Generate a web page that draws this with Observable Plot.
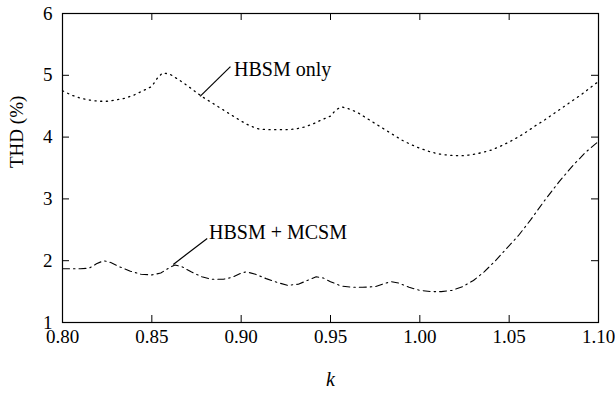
<!DOCTYPE html>
<html>
<head>
<meta charset="utf-8">
<script src="https://cdn.jsdelivr.net/npm/d3@7"></script>
<script src="https://cdn.jsdelivr.net/npm/@observablehq/plot@0.6"></script>
<style>
  body { margin: 0; background: #fff; }
</style>
</head>
<body>
<div id="chart"></div>
<script>
// HBSM only (dotted)
const kHbsm = [0.800,0.805,0.810,0.815,0.820,0.825,0.830,0.835,0.840,0.845,0.850,0.853,0.856,0.860,0.865,0.870,0.875,0.880,0.885,0.890,0.895,0.900,0.905,0.910,0.915,0.920,0.925,0.930,0.935,0.940,0.945,0.950,0.953,0.956,0.960,0.965,0.970,0.975,0.980,0.985,0.990,0.995,1.000,1.005,1.010,1.015,1.020,1.025,1.030,1.035,1.040,1.045,1.050,1.055,1.060,1.065,1.070,1.075,1.080,1.085,1.090,1.095,1.100];
const thdHbsm = [4.75,4.68,4.63,4.60,4.58,4.58,4.60,4.63,4.68,4.75,4.82,4.95,5.04,5.02,4.93,4.83,4.72,4.62,4.53,4.44,4.35,4.26,4.18,4.13,4.12,4.12,4.12,4.13,4.16,4.21,4.28,4.34,4.44,4.49,4.46,4.40,4.31,4.22,4.13,4.04,3.95,3.88,3.82,3.77,3.73,3.71,3.70,3.70,3.72,3.75,3.79,3.85,3.92,4.00,4.09,4.19,4.28,4.38,4.48,4.58,4.68,4.79,4.90];

// HBSM + MCSM (dash-dot)
const kMcsm = [0.800,0.805,0.810,0.815,0.819,0.823,0.827,0.832,0.838,0.844,0.850,0.855,0.860,0.863,0.867,0.872,0.878,0.883,0.890,0.895,0.900,0.903,0.908,0.914,0.920,0.926,0.932,0.937,0.942,0.946,0.950,0.956,0.962,0.968,0.975,0.980,0.984,0.988,0.994,1.000,1.006,1.012,1.018,1.024,1.030,1.036,1.042,1.048,1.055,1.062,1.070,1.078,1.086,1.093,1.100];
const thdMcsm = [1.87,1.87,1.87,1.88,1.95,2.00,1.97,1.90,1.83,1.78,1.77,1.80,1.89,1.93,1.90,1.82,1.74,1.70,1.70,1.73,1.80,1.82,1.78,1.71,1.65,1.60,1.62,1.68,1.74,1.72,1.66,1.59,1.57,1.57,1.58,1.63,1.66,1.64,1.57,1.52,1.50,1.50,1.52,1.58,1.68,1.82,1.99,2.18,2.40,2.66,2.98,3.28,3.55,3.76,3.93];

const xTicks = [0.80, 0.85, 0.90, 0.95, 1.00, 1.05, 1.10];
const yTicks = [1, 2, 3, 4, 5, 6];
const labelNames = ["HBSM only", "HBSM + MCSM"];
const labelK = [0.896, 0.882];
const labelThd = [5.09, 2.45];
const leaderK1 = [0.894, 0.881];
const leaderThd1 = [5.14, 2.36];
const leaderK2 = [0.877, 0.862];
const leaderThd2 = [4.66, 1.94];

const hbsm = kHbsm.map((k, i) => ({k, thd: thdHbsm[i]}));
const mcsm = kMcsm.map((k, i) => ({k, thd: thdMcsm[i]}));
const labels = labelNames.map((name, i) => ({name, k: labelK[i], thd: labelThd[i]}));
const leaders = labelNames.map((name, i) => ({x1: leaderK1[i], y1: leaderThd1[i], x2: leaderK2[i], y2: leaderThd2[i]}));

const W = 615, H = 413;
const mL = 62, mR = 17, mT = 13, mB = 91;
const frameW = W - mL - mR, frameH = H - mT - mB;
const tickLen = 7;
const SERIF = "Liberation Serif";

const plot = Plot.plot({
  width: W,
  height: H,
  marginLeft: mL,
  marginRight: mR,
  marginTop: mT,
  marginBottom: mB,
  style: {fontFamily: "'Liberation Serif', serif", fontSize: "19px", color: "#000", background: "#fff"},
  x: {domain: [0.80, 1.10], label: null},
  y: {domain: [1, 6], label: null},
  marks: [
    Plot.axisX(xTicks, {anchor: "bottom", tickSize: 0, tickPadding: 7, tickFormat: d3.format(".2f"), fontSize: 19, fontFamily: SERIF}),
    Plot.axisY(yTicks, {anchor: "left", tickSize: 0, tickPadding: 10, tickFormat: d3.format("d"), fontSize: 19, fontFamily: SERIF}),
    Plot.tickX(xTicks, {x: d => d, insetTop: frameH - tickLen, stroke: "#000"}),
    Plot.tickX(xTicks, {x: d => d, insetBottom: frameH - tickLen, stroke: "#000"}),
    Plot.tickY(yTicks, {y: d => d, insetRight: frameW - tickLen, stroke: "#000"}),
    Plot.tickY(yTicks, {y: d => d, insetLeft: frameW - tickLen, stroke: "#000"}),
    Plot.frame({stroke: "#000", strokeWidth: 1.2}),
    Plot.line(hbsm, {x: "k", y: "thd", stroke: "#000", strokeWidth: 1.3, strokeDasharray: "1.2,4.5"}),
    Plot.line(mcsm, {x: "k", y: "thd", stroke: "#000", strokeWidth: 1.1, strokeDasharray: "7,4,1.5,4"}),
    Plot.link(leaders, {x1: "x1", y1: "y1", x2: "x2", y2: "y2", stroke: "#000", strokeWidth: 1.2}),
    Plot.text(labels, {x: "k", y: "thd", text: "name", textAnchor: "start", fontSize: 20, fontFamily: SERIF, fill: "#000"}),
    Plot.text(["k"], {frameAnchor: "bottom", dy: 63, fontSize: 20, fontStyle: "italic", fontFamily: SERIF, fill: "#000"}),
    Plot.text(["THD (%)"], {frameAnchor: "left", rotate: -90, dx: -46, fontSize: 19, fontFamily: SERIF, fill: "#000"})
  ]
});
document.getElementById("chart").appendChild(plot);
</script>
</body>
</html>
